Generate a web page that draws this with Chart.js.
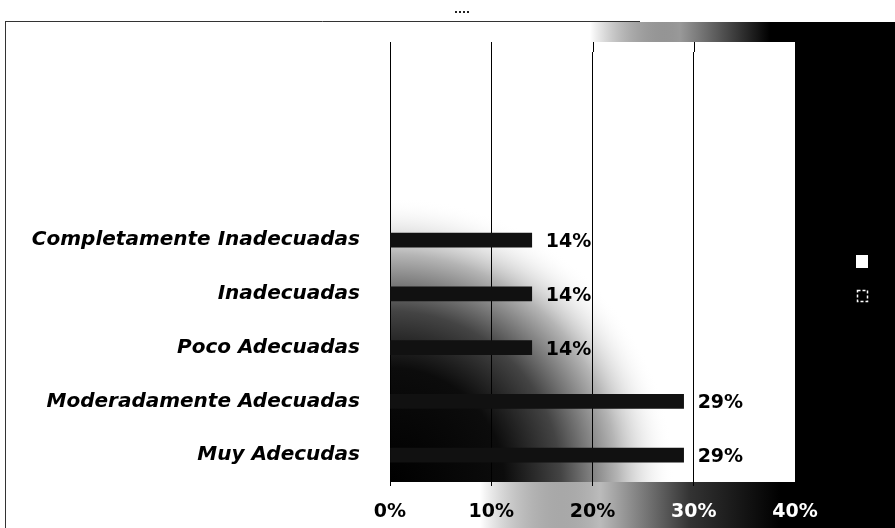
<!DOCTYPE html>
<html>
<head>
<meta charset="utf-8">
<script src="https://cdn.jsdelivr.net/npm/chart.js@4.4.0/dist/chart.umd.min.js"></script>
<style>
  html, body { margin: 0; padding: 0; background: #fff; }
  #chart { display: block; }
</style>
</head>
<body>
<canvas id="chart" width="895" height="528"></canvas>
<script>
// top three rows of the original chart are empty
var categories = ['', '', '', 'Completamente Inadecuadas', 'Inadecuadas', 'Poco Adecuadas', 'Moderadamente Adecuadas', 'Muy Adecudas'];
var percents = [null, null, null, 14, 14, 14, 29, 29];
var xTickLabels = ['0%', '10%', '20%', '30%', '40%'];
var xTickColors = ['#000', '#000', '#000', '#fff', '#fff'];

var FONT = '"DejaVu Sans", sans-serif';
var PANEL_TOP = 42;

// scanned-looking backdrop: dark gradient fills and the black side panel
var backdrop = {
    id: 'backdrop',
    beforeDraw: function (c) {
        var ctx = c.ctx, a = c.chartArea;
        ctx.save();
        ctx.fillStyle = '#fff';
        ctx.fillRect(0, 0, c.width, c.height);

        // top band fading into black
        var g = ctx.createLinearGradient(590, 0, 770, 0);
        g.addColorStop(0, 'rgba(0,0,0,0)');
        g.addColorStop(0.5, '#999');
        g.addColorStop(1, '#000');
        ctx.fillStyle = g;
        ctx.fillRect(380, 22, 515, PANEL_TOP - 22);

        // bottom band under the plot
        g = ctx.createLinearGradient(480, 0, 780, 0);
        g.addColorStop(0, 'rgba(0,0,0,0)');
        g.addColorStop(0.4, '#bbb');
        g.addColorStop(0.7, '#333');
        g.addColorStop(1, '#000');
        ctx.fillStyle = g;
        ctx.fillRect(380, a.bottom, 515, c.height - a.bottom);

        // right black panel
        ctx.fillStyle = '#000';
        ctx.beginPath();
        ctx.moveTo(a.right, 22);
        ctx.lineTo(880, 22);
        ctx.quadraticCurveTo(895, 22, 895, 37);
        ctx.lineTo(895, c.height);
        ctx.lineTo(a.right, c.height);
        ctx.closePath();
        ctx.fill();

        // plot area: dark glow from the lower-left corner
        g = ctx.createRadialGradient(a.left, a.bottom, 0, a.left, a.bottom, 285);
        g.addColorStop(0, '#000');
        g.addColorStop(0.4, '#0c0c0c');
        g.addColorStop(0.6, '#444');
        g.addColorStop(0.8, '#b5b5b5');
        g.addColorStop(1, 'rgba(255,255,255,0)');
        ctx.fillStyle = g;
        ctx.fillRect(a.left, PANEL_TOP, a.right - a.left, a.bottom - PANEL_TOP);

        // frame lines of the scan
        ctx.strokeStyle = '#333';
        ctx.lineWidth = 1;
        ctx.beginPath();
        ctx.moveTo(5.5, 22);
        ctx.lineTo(5.5, c.height);
        ctx.moveTo(5, 21.5);
        ctx.lineTo(640, 21.5);
        ctx.stroke();
        ctx.fillStyle = '#222';
        for (var i = 0; i < 4; i++) ctx.fillRect(455 + i * 4, 11, 2, 2);

        // grid lines reach up to the panel top
        var x = c.scales.x;
        ctx.strokeStyle = '#000';
        ctx.beginPath();
        [0, 10, 20, 30].forEach(function (v) {
            var px = Math.round(x.getPixelForValue(v)) + 0.5;
            ctx.moveTo(px, PANEL_TOP);
            ctx.lineTo(px, a.top);
        });
        ctx.stroke();
        ctx.restore();
    },
    afterDraw: function (c) {
        var ctx = c.ctx;
        ctx.save();
        // legend markers (text lost in the original)
        ctx.fillStyle = '#fff';
        ctx.fillRect(856, 255, 12, 13);
        ctx.strokeStyle = '#fff';
        ctx.lineWidth = 1.5;
        ctx.setLineDash([3, 2]);
        ctx.strokeRect(857.5, 290.5, 10, 11);
        ctx.restore();
    }
};

// value labels at the end of each bar
var valueLabels = {
    id: 'valueLabels',
    afterDatasetsDraw: function (c) {
        var ctx = c.ctx;
        var meta = c.getDatasetMeta(0);
        ctx.save();
        ctx.font = 'bold 19px ' + FONT;
        ctx.fillStyle = '#000';
        ctx.textAlign = 'left';
        ctx.textBaseline = 'middle';
        meta.data.forEach(function (bar, i) {
            if (percents[i] == null) return;
            ctx.fillText(percents[i] + '%', bar.x + 14, bar.y + 2);
        });
        ctx.restore();
    }
};

new Chart(document.getElementById('chart'), {
    type: 'bar',
    data: {
        labels: categories,
        datasets: [{
            data: percents,
            backgroundColor: '#111',
            borderWidth: 0,
            barThickness: 14
        }]
    },
    options: {
        indexAxis: 'y',
        responsive: false,
        animation: false,
        layout: { padding: { top: 52, right: 100, left: 0, bottom: 0 } },
        plugins: {
            legend: { display: false },
            tooltip: { enabled: false }
        },
        scales: {
            x: {
                min: 0,
                max: 40,
                afterFit: function (s) { s.height = 46; },
                afterBuildTicks: function (s) {
                    s.ticks = [0, 10, 20, 30, 40].map(function (v) { return { value: v }; });
                },
                ticks: {
                    padding: 15,
                    color: xTickColors,
                    font: { family: FONT, size: 19, weight: 'bold' },
                    callback: function (v, i) { return xTickLabels[i]; }
                },
                grid: { color: '#000', lineWidth: 1, tickLength: 4 },
                border: { display: false }
            },
            y: {
                afterFit: function (s) { s.width = 390; },
                ticks: {
                    padding: 22,
                    color: '#000',
                    font: { family: FONT, size: 20, weight: 'bold', style: 'italic' }
                },
                grid: { display: false },
                border: { display: false }
            }
        }
    },
    plugins: [backdrop, valueLabels]
});
</script>
</body>
</html>
